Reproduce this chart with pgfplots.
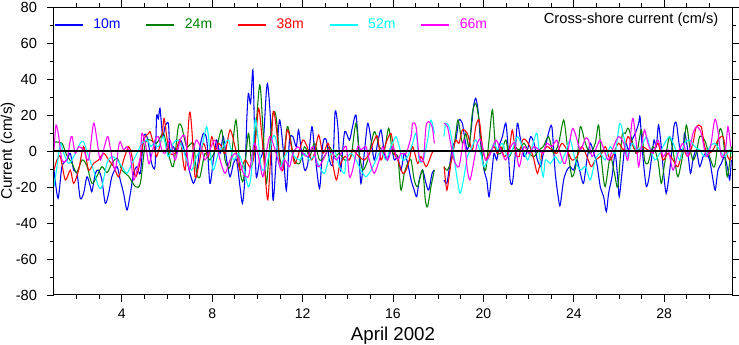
\documentclass[border=0pt]{standalone}
\usepackage{fontspec}
\setmainfont{Liberation Sans}
\usepackage{graphicx}
\usepackage{pgfplots}
\pgfplotsset{compat=1.18}
\definecolor{cA}{rgb}{0,0,1}
\definecolor{cB}{rgb}{0,0.5,0}
\definecolor{cC}{rgb}{1,0,0}
\definecolor{cD}{rgb}{0,1,1}
\definecolor{cE}{rgb}{1,0,1}
\pgfplotsset{longlegend/.style={legend image code/.code={\draw[mark repeat=2,mark phase=2,##1] plot coordinates {(0pt,0pt) (21pt,0pt)};}}}
\begin{document}
\begin{tikzpicture}
\path[use as bounding box] (-40.5pt,-37.5pt) rectangle (513.75pt,221.25pt);
\begin{axis}[
  at={(0,0)}, anchor=south west,
  scale only axis, width=508.5pt, height=216pt,
  xmin=1, xmax=31, ymin=-80, ymax=80,
  xtick={4,8,...,28}, minor xtick={2,3,...,30},
  ytick={-80,-60,...,80}, minor ytick={-70,-50,...,70},
  tick align=outside, major tick length=5.25pt, minor tick length=3pt,
  tick style={black, line width=0.6pt},
  axis line style={black, line width=0.75pt},
  /pgf/number format/assume math mode=true,
  ticklabel style={font=\fontsize{11}{13}\selectfont},
  yticklabel style={anchor=east, xshift=-4pt},
  xticklabel style={anchor=north, yshift=-4pt, inner sep=1pt, font=\fontsize{10.5}{12}\selectfont},
  xlabel={April 2002},
  xlabel style={font=\fontsize{14}{16}\selectfont, inner sep=0pt, at={([yshift=-30.5pt]axis description cs:0.5,0)}, anchor=center},
  ylabel={Current (cm/s)},
  ylabel style={font=\fontsize{11.5}{13}\selectfont, at={([xshift=-34.5pt]axis description cs:0,0.5)}, anchor=center},
  unbounded coords=jump,
  legend columns=5,
  longlegend,
  legend style={at={(0,0.9375)}, anchor=west, draw=none, fill=none, inner sep=0pt,
    font=\fontsize{10.5}{12}\selectfont,
    /tikz/every even column/.append style={column sep=19pt},
    /tikz/every odd column/.append style={column sep=7.5pt},
    nodes={inner sep=0pt}},
  every axis plot/.append style={line width=0.8pt, smooth, tension=0.45},
]
\addplot[cA] coordinates {(1.0,-10.6) (1.18,-26.3) (1.35,-8.7) (1.57,-5) (1.72,-1.3) (1.87,-10.6) (2.02,-12.4) (2.16,-26.3) (2.31,-23.5) (2.46,-14.3) (2.61,-19.8) (2.68,-22.6) (2.83,-12.4) (2.97,-10.6) (3.12,-16.1) (3.27,-29.1) (3.42,-23.5) (3.56,-14.3) (3.79,-8.7) (3.93,-16.1) (4.08,-23.5) (4.23,-32.8) (4.38,-23.5) (4.52,-12.4) (4.67,-8.7) (4.82,-12.4) (4.97,8) (5.11,8) (5.22,1) (5.32,-6.9) (5.47,-8.7) (5.54,19) (5.62,18) (5.69,23.7) (5.81,8) (5.91,13.5) (6.06,15.4) (6.13,0.6) (6.28,2.4) (6.43,-1.3) (6.58,6.1) (6.72,2.4) (6.87,-5) (7.02,-12.4) (7.17,-18) (7.31,-12.4) (7.46,2.4) (7.61,9.8) (7.76,6.1) (7.90,-18) (8.05,-5) (8.20,6.1) (8.35,-1.3) (8.49,8) (8.64,-5) (8.79,-14.3) (8.94,-6.9) (9.08,-5) (9.23,-19.8) (9.34,-29.1) (9.45,-14.3) (9.53,17.2) (9.60,32) (9.70,26.5) (9.80,45) (9.87,13.5) (9.95,-14.3) (10.10,-5) (10.24,0.6) (10.39,32) (10.46,36.7) (10.58,17.2) (10.69,-27.2) (10.83,-5) (10.98,17.2) (11.13,2.4) (11.28,-21.7) (11.42,6.1) (11.57,8) (11.72,2.4) (11.82,11.7) (11.94,0.6) (12.09,-10.6) (12.23,-6.9) (12.41,13.5) (12.53,0.6) (12.75,-20.7) (12.90,4.3) (13.05,6.1) (13.19,-5) (13.34,-6.9) (13.44,21.9) (13.56,13.5) (13.68,-10.6) (13.86,10.7) (14.07,6.1) (14.21,13.5) (14.36,20) (14.48,2.4) (14.58,-18) (14.73,-1.3) (14.88,15.4) (15.03,6.1) (15.17,-5) (15.32,4.3) (15.47,11.7) (15.62,-1.3) (15.76,-5) (15.91,2.4) (16.06,-5) (16.21,-3.1) (16.35,-10.6) (16.50,-1.3) (16.65,-6.9) (16.80,-16.1) (16.94,-21.7) (17.05,-25.4) (17.16,-16.1) (17.31,-10.6) (17.46,-18) (17.58,-21.7) (17.73,-12.4) (17.83,-10.6) (18.05,nan) (18.26,-16.1) (18.38,-18) (18.48,-10.6) (18.63,2.4) (18.78,6.1) (18.92,17.2) (19.07,15.4) (19.14,9.8) (19.29,0.6) (19.44,9.8) (19.56,24.6) (19.66,29.3) (19.76,22.8) (19.88,4.3) (20.03,-10.6) (20.15,-16.1) (20.25,-25.4) (20.37,-12.4) (20.47,-1.3) (20.59,-5) (20.69,2.4) (20.84,8) (20.99,15.4) (21.09,2.4) (21.18,-16.1) (21.28,-18) (21.39,-5) (21.50,15.4) (21.62,8) (21.80,-3.1) (21.95,0.6) (22.09,8) (22.24,4.3) (22.39,-5) (22.54,-8.7) (22.62,-3.1) (22.74,2.4) (22.88,9.8) (23.03,13.5) (23.18,-12.4) (23.33,-27.2) (23.40,-30) (23.55,-16.1) (23.70,-10.6) (23.84,-8.7) (23.99,-10.6) (24.14,-5) (24.29,-12.4) (24.43,-18) (24.58,-5) (24.73,4.3) (24.88,-1.3) (25.02,-6.9) (25.17,-19.8) (25.32,-25.4) (25.44,-33.7) (25.54,-23.5) (25.69,-14.3) (25.83,-1.3) (25.95,-16.1) (26.01,-25.4) (26.13,-12.4) (26.28,4.3) (26.42,0.6) (26.57,6.1) (26.72,9.8) (26.87,15.4) (26.93,19) (27.02,2.4) (27.13,-12.4) (27.21,-19.8) (27.31,-16.1) (27.43,-5) (27.55,6.1) (27.65,2.4) (27.75,14.4) (27.87,2.4) (27.99,-14.3) (28.09,-23.5) (28.21,-14.3) (28.31,-3.1) (28.43,13.5) (28.54,15.4) (28.68,2.4) (28.83,0.6) (28.90,9.8) (29.02,2.4) (29.16,-12.4) (29.27,-5) (29.42,0.6) (29.57,-8.7) (29.72,-3.1) (29.86,-1.3) (30.01,-5) (30.16,-16.1) (30.26,-21.7) (30.38,-10.6) (30.53,-6.9) (30.67,-3.1) (30.82,-10.6) (30.90,-16.1) (30.97,-5)};
\addlegendentry{\textcolor{cA}{10m}}
\addplot[cB] coordinates {(1.0,5) (1.35,4.3) (1.55,-2) (1.8,-6.9) (2.0,-12) (2.24,-5) (2.45,-8) (2.68,-18) (2.9,-14) (3.12,-8.7) (3.35,-12) (3.56,-6.9) (3.8,-4) (4.01,-10.6) (4.3,-14) (4.6,-19.8) (4.82,-18) (5.04,4.3) (5.26,6.1) (5.54,4.3) (5.84,9.8) (6.06,-1.3) (6.28,-8.7) (6.50,13.5) (6.65,13.5) (6.87,2.4) (7.17,4.3) (7.31,-12.4) (7.46,-14.3) (7.68,-1.3) (7.90,-5) (8.20,2.4) (8.42,11.7) (8.57,-5) (8.79,-8.7) (9.05,17.2) (9.23,-10.6) (9.38,-16.1) (9.6,9.8) (9.73,-5) (9.87,2.4) (10.10,36.7) (10.24,13.5) (10.39,-18) (10.54,2.4) (10.69,20.9) (10.83,19) (10.98,-3.1) (11.13,-6.9) (11.32,13.5) (11.47,6.1) (11.64,-5) (11.87,-6.9) (12.09,2.4) (12.31,-3.1) (12.53,4.3) (12.75,-5) (12.97,-3.1) (13.19,2.4) (13.41,-3.1) (13.63,-1.3) (13.86,-5) (14.14,-3.1) (14.36,15.4) (14.51,-1.3) (14.66,-10.6) (14.88,-5) (15.17,10.7) (15.39,2.4) (15.62,0.6) (15.81,12.6) (15.99,-1.3) (16.21,-3.1) (16.35,-21.7) (16.50,-12.4) (16.65,-6.9) (16.80,-5) (16.94,-16.1) (17.09,-19.8) (17.31,-10.6) (17.43,-27.2) (17.53,-30.9) (17.68,-19.8) (17.83,-10.6) (18.05,nan) (18.26,-8.7) (18.41,-10.6) (18.63,-3.1) (18.78,9.8) (18.88,17.2) (19.07,4.3) (19.22,9.8) (19.37,2.4) (19.51,20.9) (19.66,26.5) (19.81,17.2) (19.96,-5) (20.10,-10.6) (20.25,6.1) (20.40,22.8) (20.55,0.6) (20.77,-1.3) (20.99,6.1) (21.14,-3.1) (21.36,2.4) (21.58,0.6) (21.80,4.3) (22.02,-1.3) (22.24,-3.1) (22.46,0.6) (22.65,2.4) (22.88,8) (23.11,-1.3) (23.33,4.3) (23.55,17.2) (23.70,4.3) (23.92,-14.3) (24.14,-5) (24.29,13.5) (24.51,4.3) (24.73,-1.3) (24.95,4.3) (25.10,14.4) (25.24,-6.9) (25.39,-19.8) (25.61,-3.1) (25.80,-12.4) (25.95,-19.8) (26.13,8) (26.28,9.8) (26.42,12.6) (26.65,2.4) (26.79,-1.3) (26.99,11.7) (27.13,-5) (27.28,-6.9) (27.50,2.4) (27.72,-5) (27.87,-18) (28.02,-6.9) (28.24,8) (28.46,-5) (28.61,-14.3) (28.83,-1.3) (28.98,14.4) (29.13,2.4) (29.27,-5) (29.42,-1.3) (29.57,8) (29.79,6.1) (30.01,-3.1) (30.23,-8.7) (30.45,11.7) (30.60,8) (30.79,-14.3) (30.97,2.4)};
\addlegendentry{\textcolor{cB}{24m}}
\addplot[cC] coordinates {(1.0,-10.6) (1.13,-5) (1.28,-3.1) (1.50,-16.1) (1.72,-10.6) (1.87,-18) (2.09,-10.6) (2.31,2.4) (2.53,-10.6) (2.75,-6.9) (2.97,-5) (3.20,-1.3) (3.42,-5) (3.64,-8.7) (3.86,-14.3) (4.08,-5) (4.30,2.4) (4.45,-3.1) (4.60,-14.3) (4.77,-8.7) (4.97,6.1) (5.19,9.8) (5.25,10.7) (5.40,4.3) (5.54,-3.1) (5.77,8) (5.87,18.1) (5.99,8) (6.13,-1.3) (6.36,-1.3) (6.58,6.1) (6.80,-10.6) (6.99,20.9) (7.09,13.5) (7.24,-14.3) (7.39,-8.7) (7.61,4.3) (7.83,-3.1) (7.98,8) (8.13,0.6) (8.27,4.3) (8.42,2.4) (8.57,-1.3) (8.79,11.7) (9.01,2.4) (9.23,-10.6) (9.45,-5) (9.65,-8.7) (9.73,-8.7) (9.87,-1.3) (10.05,23.7) (10.20,8) (10.35,-14.3) (10.46,-27.2) (10.58,-5) (10.70,21.9) (10.83,13.5) (10.98,-5) (11.13,-10.6) (11.32,11.7) (11.50,2.4) (11.64,-6.9) (11.79,-3.1) (12.01,6.1) (12.20,2.4) (12.38,-5) (12.53,-1.3) (12.71,8.9) (12.90,-1.3) (13.12,4.3) (13.27,-3.1) (13.49,-16.1) (13.63,-8.7) (13.86,-3.1) (14.07,-5) (14.21,0.6) (14.36,-1.3) (14.51,-3.1) (14.73,-5) (14.95,-1.3) (15.17,6.1) (15.32,8) (15.47,-5) (15.69,4.3) (15.91,9.8) (16.06,-1.3) (16.21,-5) (16.43,-12.4) (16.58,-10.6) (16.72,-5) (16.87,2.4) (17.09,-6.9) (17.24,-3.1) (17.46,-8.7) (17.61,-5) (17.72,-1.3) (17.83,0.6) (18.05,nan) (18.26,-8.7) (18.38,-21.7) (18.48,-14.3) (18.63,-1.3) (18.78,6.1) (18.92,4.3) (19.07,11.7) (19.29,9.8) (19.51,0.6) (19.66,13.5) (19.81,17.2) (19.96,2.4) (20.10,-5) (20.25,-1.3) (20.47,2.4) (20.62,-1.3) (20.77,2.4) (20.92,-3.1) (21.14,0.6) (21.28,11.7) (21.43,-1.3) (21.58,-3.1) (21.73,6.1) (21.87,6.1) (22.06,2.4) (22.24,-5) (22.39,-12.4) (22.54,-5) (22.59,-1.3) (22.81,2.4) (23.03,0.6) (23.25,-1.3) (23.47,4.3) (23.70,0.6) (23.92,-5) (24.14,-3.1) (24.36,2.4) (24.58,-3.1) (24.77,-8.7) (24.95,-5) (25.17,-3.1) (25.39,2.4) (25.61,-5) (25.76,-1.3) (25.98,4.3) (26.21,0.6) (26.39,8) (26.57,4.3) (26.79,-1.3) (26.99,2.4) (27.28,0.6) (27.50,-1.3) (27.72,4.3) (27.95,-5) (28.17,-1.3) (28.39,-5) (28.61,-8.7) (28.83,0.6) (29.05,-3.1) (29.27,4.3) (29.42,13.5) (29.64,13.5) (29.79,2.4) (29.97,-1.3) (30.16,0.6) (30.38,6.1) (30.60,8) (30.75,-1.3) (30.90,-5) (30.97,-3.1)};
\addlegendentry{\textcolor{cC}{38m}}
\addplot[cD] coordinates {(1.0,-19.8) (1.13,-8.7) (1.28,4.3) (1.43,-1.3) (1.65,-6.9) (1.87,-3.1) (2.16,4.3) (2.31,5.2) (2.53,-3.1) (2.75,-10.6) (2.97,-19.8) (3.12,-19.8) (3.34,-6.9) (3.56,-3.1) (3.79,-5) (4.01,-8.7) (4.23,-12.4) (4.45,-6.9) (4.67,-1.3) (4.89,4.3) (5.11,6.1) (5.30,2.4) (5.40,4.3) (5.62,2.4) (5.84,8) (6.06,-3.1) (6.28,4.3) (6.50,6.1) (6.72,0.6) (6.87,-5) (7.09,-10.6) (7.31,-3.1) (7.54,2.4) (7.76,13.5) (7.90,0.6) (8.05,-10.6) (8.27,-1.3) (8.49,2.4) (8.72,6.1) (8.94,-5) (9.16,-1.3) (9.38,-8.7) (9.60,-19.8) (9.73,-12.4) (9.90,17.2) (10.02,8) (10.17,-8.7) (10.32,-10.6) (10.46,-5) (10.69,8) (10.83,6.1) (10.98,-8.7) (11.20,-3.1) (11.42,0.6) (11.64,-3.1) (11.87,-5) (12.09,-1.3) (12.31,-5) (12.53,-3.1) (12.75,-8.7) (12.97,-12.4) (13.19,-3.1) (13.41,0.6) (13.63,-8.7) (13.86,-12.4) (13.92,-5) (14.14,-1.3) (14.36,-5) (14.58,-10.6) (14.80,-14.3) (15.03,-10.6) (15.25,-5) (15.47,0.6) (15.69,-5) (15.91,2.4) (16.13,8) (16.28,2.4) (16.43,-5) (16.65,-3.1) (16.87,4.3) (17.02,9.8) (17.16,-5) (17.34,-5) (17.53,6.1) (17.68,17.2) (17.83,9.8) (18.05,nan) (18.26,8) (18.33,15.4) (18.48,13.5) (18.63,4.3) (18.78,-10.6) (18.97,-23.5) (19.14,-14.3) (19.29,-3.1) (19.44,0.6) (19.66,6.1) (19.88,-1.3) (20.03,-8.7) (20.25,-3.1) (20.47,4.3) (20.62,0.6) (20.84,4.3) (21.06,-3.1) (21.28,0.6) (21.50,8) (21.73,2.4) (21.95,-5) (22.12,0.6) (22.36,9.8) (22.51,-5) (22.65,-14.3) (22.74,-5) (22.96,-6.9) (23.18,-3.1) (23.40,-6.9) (23.62,-1.3) (23.84,6.1) (24.06,-5) (24.29,-10.6) (24.51,-8.7) (24.73,-16.1) (24.95,-5) (25.17,-1.3) (25.39,-5) (25.61,2.4) (25.83,-1.3) (26.03,15.4) (26.21,8) (26.39,-3.1) (26.57,4.3) (26.79,0.6) (26.99,2.4) (27.21,8) (27.36,2.4) (27.58,-5) (27.80,-1.3) (28.02,4.3) (28.24,8) (28.46,2.4) (28.68,-5) (28.90,4.3) (29.13,6.1) (29.35,2.4) (29.57,0.6) (29.79,-3.1) (30.01,2.4) (30.23,4.3) (30.45,0.6) (30.67,-3.1) (30.90,0.6) (30.97,-1.3)};
\addlegendentry{\textcolor{cD}{52m}}
\addplot[cE] coordinates {(1.0,0.6) (1.09,14.4) (1.21,8) (1.35,-5) (1.57,-5) (1.72,6.1) (1.80,8) (1.94,-1.3) (2.09,2.4) (2.31,0.6) (2.53,-5) (2.75,15.4) (2.90,6.1) (3.05,-5) (3.27,4.3) (3.39,8) (3.56,-3.1) (3.71,-10.6) (3.86,2.4) (3.93,5.2) (4.08,0.6) (4.23,2.4) (4.38,-3.1) (4.52,-16.1) (4.67,-10.6) (4.82,-3.1) (4.89,9.8) (5.04,4.3) (5.19,-6.9) (5.30,-3.1) (5.47,6.1) (5.62,8) (5.77,0.6) (5.91,-1.3) (6.13,6.1) (6.36,-5) (6.58,6.1) (6.80,8) (6.99,-10.6) (7.17,0.6) (7.31,6.1) (7.54,0.6) (7.68,-5) (7.90,0.6) (8.13,6.1) (8.35,-5) (8.57,-12.4) (8.79,-5) (9.01,-1.3) (9.20,-5) (9.38,-12.4) (9.60,-14.3) (9.73,-5) (9.87,4.3) (10.02,-1.3) (10.24,-14.3) (10.39,-1.3) (10.54,8) (10.69,4.3) (10.91,-5) (11.05,-10.6) (11.20,-5) (11.42,-8.7) (11.57,-1.3) (11.79,2.4) (12.01,-1.3) (12.23,-3.1) (12.45,2.4) (12.68,-8.7) (12.90,-5) (13.12,0.6) (13.34,-1.3) (13.49,-5) (13.71,-1.3) (13.93,2.4) (14.07,-14.3) (14.21,-10.6) (14.44,2.4) (14.58,0.6) (14.80,2.4) (14.95,-5) (15.17,-12.4) (15.39,-5) (15.54,2.4) (15.76,-5) (15.99,2.4) (16.21,-5) (16.35,-1.3) (16.58,-1.3) (16.80,8) (16.87,15.4) (17.02,13.5) (17.16,-3.1) (17.34,-5) (17.46,13.5) (17.58,16.3) (17.73,13.5) (17.83,4.3) (18.05,nan) (18.26,15.4) (18.41,13.5) (18.55,4.3) (18.70,-5) (18.92,-8.7) (19.14,6.1) (19.29,-10.6) (19.41,-16.1) (19.59,-5) (19.73,4.3) (19.88,6.1) (20.10,-5) (20.32,-1.3) (20.55,6.1) (20.77,0.6) (20.99,-5) (21.21,2.4) (21.39,4.3) (21.58,-8.7) (21.80,2.4) (22.02,-1.3) (22.24,2.4) (22.46,0.6) (22.65,-1.3) (22.81,4.3) (23.03,2.4) (23.25,6.1) (23.40,-1.3) (23.62,-6.9) (23.92,11.7) (24.06,9.8) (24.29,0.6) (24.51,7) (24.65,6.1) (24.80,-3.1) (25.02,2.4) (25.17,6.1) (25.39,-1.3) (25.54,-5) (25.76,2.4) (25.98,8) (26.21,4.3) (26.39,-5) (26.60,18.1) (26.75,6.1) (26.87,-8.7) (26.99,2.4) (27.13,11.7) (27.28,4.3) (27.50,-1.3) (27.72,6.1) (27.95,-3.1) (28.17,0.6) (28.39,-10.6) (28.61,-1.3) (28.83,4.3) (29.05,-3.1) (29.27,9.8) (29.46,13.5) (29.64,9.8) (29.86,-3.1) (30.05,2.4) (30.23,17.2) (30.35,13.5) (30.53,-3.1) (30.71,0.6) (30.82,13.5) (30.94,2.4)};
\addlegendentry{\textcolor{cE}{66m}}
\addplot[black, line width=0.8pt, forget plot, sharp plot] coordinates {(1,0) (31,0)};
\node[anchor=east, font=\fontsize{11}{13}\selectfont] at ([xshift=-6.75pt,yshift=-9.75pt]rel axis cs:1,1) {Cross-shore current (cm/s)};
\end{axis}
\end{tikzpicture}
\end{document}
